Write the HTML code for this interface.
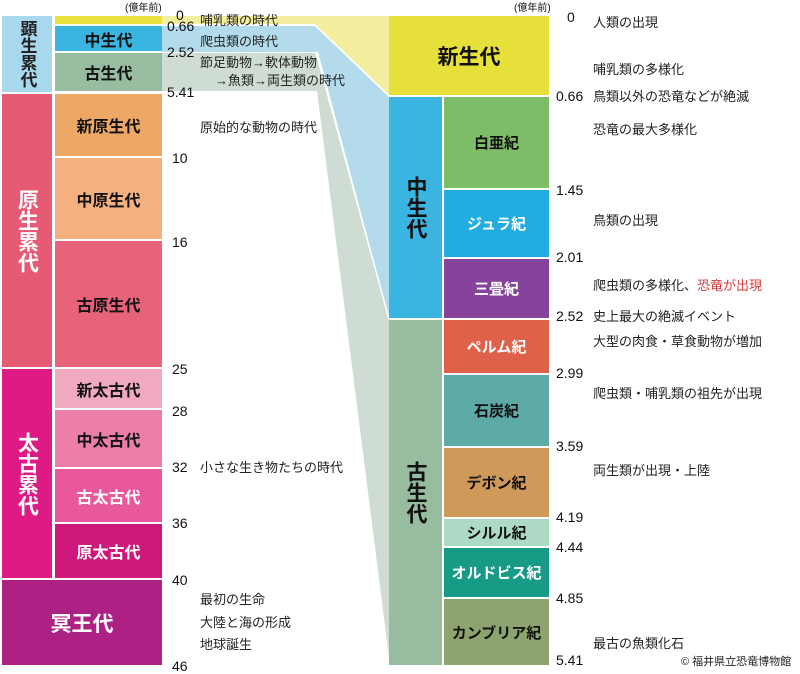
<!DOCTYPE html>
<html><head><meta charset="utf-8"><style>
body{margin:0;width:800px;height:674px;background:#fff;position:relative;overflow:hidden;font-family:"Liberation Sans","Noto Sans CJK JP",sans-serif;}
.b{position:absolute;display:flex;align-items:center;justify-content:center;font-weight:bold;font-size:16px;color:#111;}
.v{writing-mode:vertical-rl;text-orientation:upright;font-size:21px;color:#fff;line-height:1;white-space:nowrap;}
.t{position:absolute;font-size:13px;color:#222;white-space:nowrap;line-height:1;}
.n{position:absolute;font-size:14px;color:#111;line-height:1;}
.w{color:#fff;}
svg{position:absolute;left:0;top:0;}
</style></head><body>
<svg width="800" height="674">
<polygon points="162,53 316,53 389,320 389,665 390,665 317,91 162,91" fill="#cfdcd3"/>
<polygon points="162,16 389,16 389,95 315,24 162,24" fill="#f3ef9e"/>
<polygon points="162,26 315,26 389,97 389,318 318,52 162,52" fill="#b3dbec"/>
<line x1="315" y1="25" x2="389" y2="96" stroke="#fff" stroke-width="1.5"/>
<line x1="316" y1="52" x2="389" y2="319" stroke="#fff" stroke-width="1.5"/>
</svg>
<!-- left eons -->
<div class="b v" style="left:2px;top:16px;width:50px;height:76px;background:#a7d8ee;color:#222;font-size:17px">顕生累代</div>
<div class="b v" style="left:2px;top:94px;width:50px;height:273px;background:#e65a74">原生累代</div>
<div class="b v" style="left:2px;top:369px;width:50px;height:209px;background:#de1b84">太古累代</div>
<div class="b" style="left:2px;top:580px;width:160px;height:85px;background:#ae2184;color:#fff;font-size:21px">冥王代</div>
<!-- left eras -->
<div class="b" style="left:55px;top:16px;width:107px;height:8px;background:#ebe13c"></div>
<div class="b" style="left:55px;top:26px;width:107px;height:25px;background:#3ab4e0">中生代</div>
<div class="b" style="left:55px;top:53px;width:107px;height:38px;background:#97bc9f">古生代</div>
<div class="b" style="left:55px;top:94px;width:107px;height:62px;background:#eda866">新原生代</div>
<div class="b" style="left:55px;top:158px;width:107px;height:81px;background:#f4b07e">中原生代</div>
<div class="b" style="left:55px;top:241px;width:107px;height:126px;background:#e8627a">古原生代</div>
<div class="b" style="left:55px;top:369px;width:107px;height:39px;background:#f0a9bf">新太古代</div>
<div class="b" style="left:55px;top:410px;width:107px;height:57px;background:#ec7fa8">中太古代</div>
<div class="b w" style="left:55px;top:469px;width:107px;height:53px;background:#e8589a">古太古代</div>
<div class="b w" style="left:55px;top:524px;width:107px;height:54px;background:#cf177c">原太古代</div>
<!-- left numbers -->
<div class="n" style="left:125px;top:4px;font-size:10px">(億年前)</div>
<div class="n" style="left:176px;top:8px">0</div>
<div class="n" style="left:167px;top:19px">0.66</div>
<div class="n" style="left:167px;top:45px">2.52</div>
<div class="n" style="left:167px;top:85px">5.41</div>
<div class="n" style="left:172px;top:151px">10</div>
<div class="n" style="left:172px;top:235px">16</div>
<div class="n" style="left:172px;top:362px">25</div>
<div class="n" style="left:172px;top:404px">28</div>
<div class="n" style="left:172px;top:460px">32</div>
<div class="n" style="left:172px;top:516px">36</div>
<div class="n" style="left:172px;top:573px">40</div>
<div class="n" style="left:172px;top:659px">46</div>
<!-- left texts -->
<div class="t" style="left:200px;top:14px">哺乳類の時代</div>
<div class="t" style="left:200px;top:35px">爬虫類の時代</div>
<div class="t" style="left:200px;top:56px">節足動物→軟体動物</div>
<div class="t" style="left:215px;top:74px">→魚類→両生類の時代</div>
<div class="t" style="left:200px;top:121px">原始的な動物の時代</div>
<div class="t" style="left:200px;top:461px">小さな生き物たちの時代</div>
<div class="t" style="left:200px;top:593px">最初の生命</div>
<div class="t" style="left:200px;top:616px">大陸と海の形成</div>
<div class="t" style="left:200px;top:638px">地球誕生</div>
<!-- right -->
<div class="b" style="left:389px;top:16px;width:160px;height:79px;background:#e8e03a;font-size:21px">新生代</div>
<div class="b v" style="left:389px;top:97px;width:53px;height:221px;background:#3ab4e0;color:#111">中生代</div>
<div class="b v" style="left:389px;top:320px;width:53px;height:345px;background:#97bc9f;color:#111">古生代</div>
<div class="b" style="left:444px;top:97px;width:105px;height:91px;background:#7dbd67;font-size:15px">白亜紀</div>
<div class="b w" style="left:444px;top:190px;width:105px;height:67px;background:#22ade0;font-size:15px">ジュラ紀</div>
<div class="b w" style="left:444px;top:259px;width:105px;height:59px;background:#85439b;font-size:15px">三畳紀</div>
<div class="b w" style="left:444px;top:320px;width:105px;height:53px;background:#e0614a;font-size:15px">ペルム紀</div>
<div class="b" style="left:444px;top:375px;width:105px;height:71px;background:#5eaaa7;font-size:15px">石炭紀</div>
<div class="b" style="left:444px;top:448px;width:105px;height:69px;background:#cf9a59;font-size:15px">デボン紀</div>
<div class="b" style="left:444px;top:519px;width:105px;height:27px;background:#acdac5;font-size:15px">シルル紀</div>
<div class="b w" style="left:444px;top:548px;width:105px;height:49px;background:#179a86;font-size:15px">オルドビス紀</div>
<div class="b" style="left:444px;top:599px;width:105px;height:66px;background:#8ea46e;font-size:15px">カンブリア紀</div>
<div class="n" style="left:514px;top:4px;font-size:10px">(億年前)</div>
<div class="n" style="left:567px;top:10px">0</div>
<div class="n" style="left:556px;top:89px">0.66</div>
<div class="n" style="left:556px;top:183px">1.45</div>
<div class="n" style="left:556px;top:250px">2.01</div>
<div class="n" style="left:556px;top:309px">2.52</div>
<div class="n" style="left:556px;top:366px">2.99</div>
<div class="n" style="left:556px;top:439px">3.59</div>
<div class="n" style="left:556px;top:510px">4.19</div>
<div class="n" style="left:556px;top:540px">4.44</div>
<div class="n" style="left:556px;top:591px">4.85</div>
<div class="n" style="left:556px;top:653px">5.41</div>
<div class="t" style="left:593px;top:16px">人類の出現</div>
<div class="t" style="left:593px;top:63px">哺乳類の多様化</div>
<div class="t" style="left:593px;top:90px">鳥類以外の恐竜などが絶滅</div>
<div class="t" style="left:593px;top:123px">恐竜の最大多様化</div>
<div class="t" style="left:593px;top:214px">鳥類の出現</div>
<div class="t" style="left:593px;top:279px">爬虫類の多様化、<span style="color:#d9383a">恐竜が出現</span></div>
<div class="t" style="left:593px;top:310px">史上最大の絶滅イベント</div>
<div class="t" style="left:593px;top:335px">大型の肉食・草食動物が増加</div>
<div class="t" style="left:593px;top:387px">爬虫類・哺乳類の祖先が出現</div>
<div class="t" style="left:593px;top:464px">両生類が出現・上陸</div>
<div class="t" style="left:593px;top:637px">最古の魚類化石</div>
<div class="t" style="left:681px;top:657px;font-size:11px">© 福井県立恐竜博物館</div>
</body></html>
